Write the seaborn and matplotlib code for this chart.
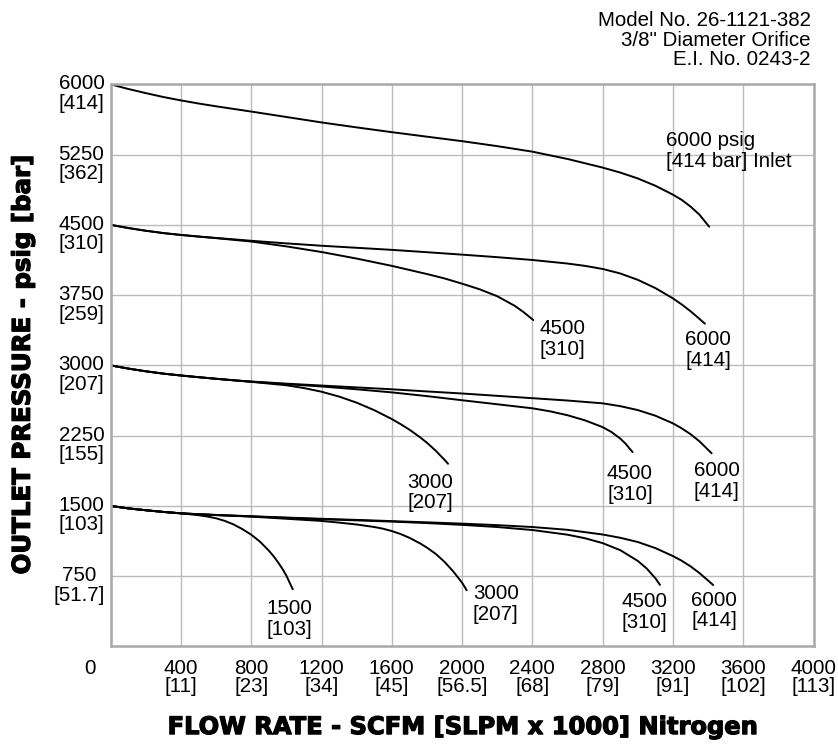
import numpy as np
import pandas as pd
import matplotlib
matplotlib.use('Agg')
import matplotlib.pyplot as plt
import matplotlib.patheffects as pe
from matplotlib.transforms import ScaledTranslation
import seaborn as sns

# ── 1. Data (flow SCFM, outlet psig) ─────────────────────────────────
# naming: <inlet psig>_<outlet setting psig>
flow_6000_6000 = [0, 100, 200, 300, 400, 500, 600, 700, 800, 1000, 1200, 1400, 1600, 1800, 2000,
                  2200, 2400, 2600, 2800, 2900, 3000, 3100, 3200, 3250, 3300, 3350, 3406]
pres_6000_6000 = [6000, 5950, 5906, 5864, 5828, 5795, 5765, 5737, 5709, 5651, 5593, 5540, 5489, 5441, 5393,
                  5340, 5281, 5203, 5111, 5058, 4995, 4917, 4822, 4766, 4695, 4610, 4480]

flow_6000_4500 = [0, 100, 200, 300, 400, 500, 600, 800, 1000, 1200, 1400, 1600, 1800, 2000, 2200,
                  2400, 2600, 2700, 2800, 2900, 3000, 3100, 3200, 3250, 3300, 3340, 3382]
pres_6000_4500 = [4500, 4466, 4437, 4412, 4392, 4375, 4360, 4330, 4302, 4277, 4255, 4233, 4208, 4182, 4155,
                  4125, 4087, 4062, 4029, 3981, 3913, 3825, 3715, 3650, 3578, 3514, 3445]

flow_4500_4500 = [0, 100, 200, 300, 400, 500, 600, 800, 1000, 1200, 1400, 1600, 1800, 1900, 2000,
                  2100, 2200, 2300, 2350, 2405]
pres_4500_4500 = [4500, 4466, 4437, 4412, 4392, 4375, 4358, 4322, 4270, 4210, 4140, 4062, 3975, 3928, 3872,
                  3812, 3738, 3635, 3568, 3484]

flow_6000_3000 = [0, 100, 200, 300, 400, 500, 600, 700, 800, 1000, 1200, 1400, 1600, 1800, 2000, 2200,
                  2400, 2600, 2800, 2900, 3000, 3100, 3200, 3250, 3300, 3350, 3420]
pres_6000_3000 = [3000, 2966, 2937, 2912, 2892, 2874, 2857, 2841, 2828, 2805, 2785, 2765, 2745, 2722, 2700, 2675,
                  2650, 2625, 2595, 2565, 2523, 2463, 2381, 2328, 2266, 2191, 2062]

flow_4500_3000 = [0, 100, 200, 300, 400, 500, 600, 700, 800, 1000, 1200, 1400, 1600, 1800, 2000, 2200,
                  2400, 2500, 2600, 2700, 2800, 2850, 2900, 2930, 2970]
pres_4500_3000 = [3000, 2966, 2937, 2912, 2892, 2874, 2857, 2841, 2826, 2800, 2775, 2745, 2712, 2672, 2628, 2585,
                  2542, 2510, 2468, 2413, 2341, 2289, 2219, 2165, 2075]

flow_3000_3000 = [0, 100, 200, 300, 400, 500, 600, 700, 800, 1000, 1100, 1200, 1300, 1400, 1500, 1600,
                  1650, 1700, 1760, 1800, 1850, 1900, 1920]
pres_3000_3000 = [3000, 2966, 2937, 2912, 2892, 2874, 2857, 2841, 2824, 2788, 2758, 2719, 2667, 2602, 2522, 2427,
                  2373, 2314, 2234, 2174, 2089, 1992, 1950]

flow_6000_1500 = [0, 100, 200, 300, 400, 500, 600, 800, 1000, 1200, 1400, 1600, 1800, 2000, 2200, 2400,
                  2600, 2800, 2900, 3000, 3100, 3200, 3250, 3300, 3350, 3429]
pres_6000_1500 = [1500, 1474, 1454, 1436, 1421, 1412, 1404, 1390, 1376, 1363, 1351, 1338, 1325, 1311, 1295, 1275,
                  1245, 1195, 1160, 1115, 1050, 965, 915, 855, 785, 656]

flow_4500_1500 = [0, 100, 200, 300, 400, 500, 600, 800, 1000, 1200, 1400, 1600, 1800, 2000, 2200, 2400,
                  2600, 2700, 2800, 2900, 3000, 3050, 3100, 3126]
pres_4500_1500 = [1500, 1474, 1454, 1436, 1421, 1411, 1402, 1388, 1373, 1358, 1346, 1333, 1317, 1298, 1275, 1243,
                  1193, 1155, 1103, 1028, 913, 833, 728, 658]

flow_3000_1500 = [0, 100, 200, 300, 400, 500, 600, 800, 1000, 1200, 1300, 1400, 1500, 1550, 1600, 1650,
                  1700, 1760, 1800, 1850, 1900, 1950, 2000, 2026]
pres_3000_1500 = [1500, 1474, 1454, 1436, 1421, 1411, 1403, 1386, 1363, 1340, 1322, 1302, 1275, 1257, 1232, 1200,
                  1160, 1101, 1055, 988, 903, 800, 680, 600]

flow_1500_1500 = [0, 100, 200, 300, 400, 450, 500, 550, 600, 650, 700, 750, 800, 850, 900, 925,
                  950, 975, 1000, 1036]
pres_1500_1500 = [1500, 1474, 1454, 1436, 1421, 1411, 1401, 1387, 1368, 1340, 1302, 1252, 1193, 1118, 1023, 968,
                  905, 835, 755, 611]

curve_labels = ['6000 psig\n[414 bar] Inlet', '4500\n[310]', '6000\n[414]',
                '3000\n[207]', '4500\n[310]', '6000\n[414]',
                '1500\n[103]', '3000\n[207]', '4500\n[310]', '6000\n[414]']
curve_label_x = [3163, 2570, 3400, 1817, 2955, 3448, 1016, 2191, 3037, 3435]
curve_label_y = [5291, 3280, 3161, 1644, 1732, 1768, 291, 451, 370, 384]

x_ticks = [0, 400, 800, 1200, 1600, 2000, 2400, 2800, 3200, 3600, 4000]
x_tick_labels = ['0', '400\n[11]', '800\n[23]', '1200\n[34]', '1600\n[45]', '2000\n[56.5]',
                 '2400\n[68]', '2800\n[79]', '3200\n[91]', '3600\n[102]', '4000\n[113]']
y_ticks = [750, 1500, 2250, 3000, 3750, 4500, 5250, 6000]
y_tick_labels = ['750\n[51.7]', '1500\n[103]', '2250\n[155]', '3000\n[207]',
                 '3750\n[259]', '4500\n[310]', '5250\n[362]', '6000\n[414]']

header = 'Model No. 26-1121-382\n3/8" Diameter Orifice\nE.I. No. 0243-2'

# ── 2. Long-form table ───────────────────────────────────────────────
series = {
    '6000/6000': (flow_6000_6000, pres_6000_6000),
    '6000/4500': (flow_6000_4500, pres_6000_4500),
    '4500/4500': (flow_4500_4500, pres_4500_4500),
    '6000/3000': (flow_6000_3000, pres_6000_3000),
    '4500/3000': (flow_4500_3000, pres_4500_3000),
    '3000/3000': (flow_3000_3000, pres_3000_3000),
    '6000/1500': (flow_6000_1500, pres_6000_1500),
    '4500/1500': (flow_4500_1500, pres_4500_1500),
    '3000/1500': (flow_3000_1500, pres_3000_1500),
    '1500/1500': (flow_1500_1500, pres_1500_1500),
}
df = pd.concat([pd.DataFrame({'curve': k, 'flow': f, 'pressure': p})
                for k, (f, p) in series.items()], ignore_index=True)

# ── 3. Figure ────────────────────────────────────────────────────────
sns.set_theme(style='white')
plt.rcParams['font.family'] = ['Liberation Sans', 'DejaVu Sans']
plt.rcParams.update({'text.color': 'black', 'axes.labelcolor': 'black',
                     'xtick.color': 'black', 'ytick.color': 'black'})
FS = 14.8

fig = plt.figure(figsize=(8.38, 7.46), dpi=100)
ax = fig.add_axes([0.1321, 0.1334, 0.8387, 0.7536])

sns.lineplot(data=df, x='flow', y='pressure', units='curve', estimator=None,
             sort=False, color='black', lw=1.4, ax=ax)

ax.set_xlim(0, 4000); ax.set_ylim(0, 6000)
ax.set_xticks(x_ticks)
ax.set_xticklabels(x_tick_labels, fontsize=FS, linespacing=0.93, multialignment='center')
ax.set_yticks(y_ticks)
ax.set_yticklabels(y_tick_labels, fontsize=FS, linespacing=1.03, multialignment='center')
ax.tick_params(axis='x', length=0, pad=9.0)
ax.tick_params(axis='y', length=0, pad=4.5)

# first line of each y label sits on its gridline
for lab in ax.get_yticklabels():
    lab.set_verticalalignment('top')
    lab.set_transform(lab.get_transform() + ScaledTranslation(0, 0.10, fig.dpi_scale_trans))
# the "0" sits left of the corner
lab0 = ax.get_xticklabels()[0]
lab0.set_transform(lab0.get_transform() + ScaledTranslation(-0.207, 0, fig.dpi_scale_trans))

ax.grid(True, color='#bbbbbb', lw=1.0)
for s in ax.spines.values():
    s.set_color('#a9a9a9'); s.set_linewidth(1.8)

for t, x, y in zip(curve_labels, curve_label_x, curve_label_y):
    ha = 'left' if 'Inlet' in t else 'center'
    ax.text(x, y, t, ha=ha, va='center', fontsize=FS, linespacing=1.12, multialignment=ha)

heavy = [pe.withStroke(linewidth=0.9, foreground='black')]
ax.set_xlabel('FLOW RATE - SCFM [SLPM x 1000] Nitrogen', fontsize=17.4,
              fontweight='bold', family='DejaVu Sans', path_effects=heavy)
ax.set_ylabel('OUTLET PRESSURE - psig [bar]', fontsize=17.6,
              fontweight='bold', family='DejaVu Sans', path_effects=heavy)
ax.xaxis.set_label_coords(0.5, -0.122)
ax.yaxis.set_label_coords(-0.108, 0.5)

fig.text(810.7 / 838, 1 - 11 / 746, header, ha='right', va='top', fontsize=FS,
         linespacing=1.04, multialignment='right')

plt.savefig('out.png', dpi=100)
plt.close()
